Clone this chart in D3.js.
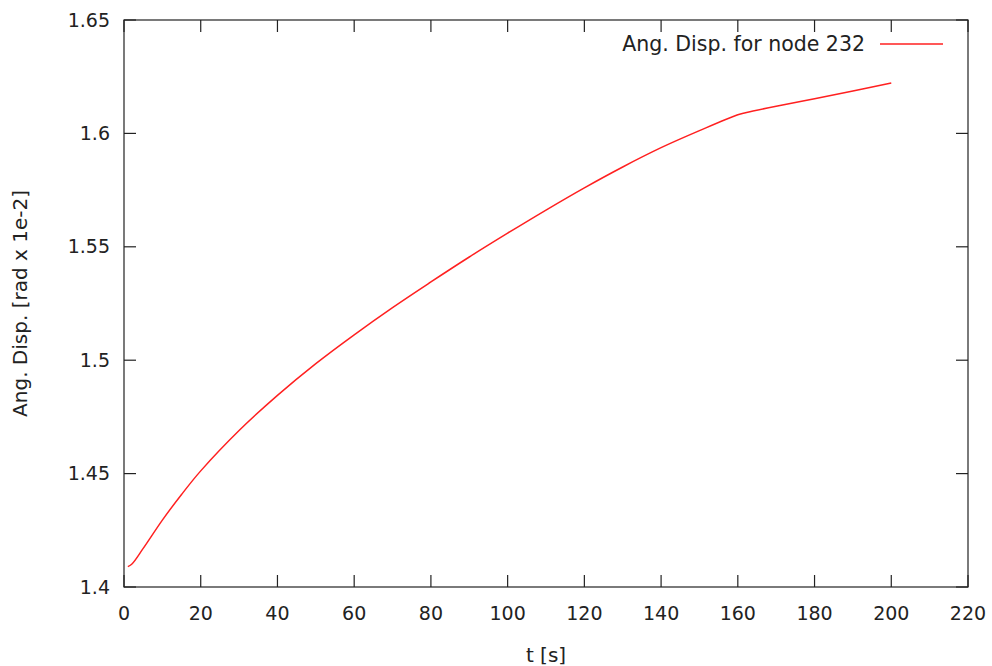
<!DOCTYPE html>
<html>
<head>
<meta charset="utf-8">
<script src="https://cdn.jsdelivr.net/npm/d3@7"></script>
<style>
body { margin: 0; background: #fff; }
.chart text { font-family: "DejaVu Sans", sans-serif; fill: #222; }
</style>
</head>
<body>
<div class="chart"></div>
<script>
// time [s]
var times = [1, 2, 5, 10, 15, 20, 30, 40, 50, 60, 70, 80, 90, 100, 110, 120, 130, 140, 150, 160, 162, 170, 180, 190, 200];
// angular displacement [rad x 1e-2]
var angDisp = [1.4090, 1.4100, 1.4170, 1.4295, 1.4408, 1.4512, 1.4690, 1.4845, 1.4985, 1.5112, 1.5232, 1.5345, 1.5455, 1.5560, 1.5662, 1.5760, 1.5852, 1.5937, 1.6012, 1.6082, 1.6091, 1.6120, 1.6153, 1.6187, 1.6222];
var xTicks = [0, 20, 40, 60, 80, 100, 120, 140, 160, 180, 200, 220];
var yTicks = [1.4, 1.45, 1.5, 1.55, 1.6, 1.65];
var seriesName = 'Ang. Disp. for node 232';

var W = 992, H = 666;
var pLeft = 124, pRight = 968, pTop = 20, pBottom = 587;

var x = d3.scaleLinear().domain([0, 220]).range([pLeft, pRight]);
var y = d3.scaleLinear().domain([1.4, 1.65]).range([pBottom, pTop]);

var svg = d3.select('div.chart')
.append('svg')
.attr('width', W)
.attr('height', H)
;

var tickLen = 12;

// ticks on all four sides, gnuplot style
var ax = svg.append('g');
ax.selectAll('.xb').data(xTicks).enter().append('line')
.attr('x1', function(d){return x(d)}).attr('x2', function(d){return x(d)})
.attr('y1', pBottom).attr('y2', pBottom - tickLen)
.attr('stroke', '#222').attr('stroke-width', 1.2);
ax.selectAll('.xt').data(xTicks).enter().append('line')
.attr('x1', function(d){return x(d)}).attr('x2', function(d){return x(d)})
.attr('y1', pTop).attr('y2', pTop + tickLen)
.attr('stroke', '#222').attr('stroke-width', 1.2);
ax.selectAll('.yl').data(yTicks).enter().append('line')
.attr('y1', function(d){return y(d)}).attr('y2', function(d){return y(d)})
.attr('x1', pLeft).attr('x2', pLeft + tickLen)
.attr('stroke', '#222').attr('stroke-width', 1.2);
ax.selectAll('.yr').data(yTicks).enter().append('line')
.attr('y1', function(d){return y(d)}).attr('y2', function(d){return y(d)})
.attr('x1', pRight).attr('x2', pRight - tickLen)
.attr('stroke', '#222').attr('stroke-width', 1.2);

ax.append('rect')
.attr('x', pLeft).attr('y', pTop)
.attr('width', pRight - pLeft).attr('height', pBottom - pTop)
.attr('fill', 'none').attr('stroke', '#222').attr('stroke-width', 1.2);

ax.selectAll('.xlab').data(xTicks).enter().append('text')
.attr('x', function(d){return x(d)})
.attr('y', pBottom + 33)
.attr('text-anchor', 'middle')
.style('font-size', '19px')
.text(function(d){return d});

ax.selectAll('.ylab').data(yTicks).enter().append('text')
.attr('x', pLeft - 14)
.attr('y', function(d){return y(d)})
.attr('dy', '0.35em')
.attr('text-anchor', 'end')
.style('font-size', '19px')
.text(function(d){return d3.format('')(d)});

svg.append('text')
.attr('x', (pLeft + pRight) / 2)
.attr('y', 662)
.attr('text-anchor', 'middle')
.style('font-size', '20px')
.text('t [s]');

svg.append('text')
.attr('transform', 'translate(27,' + ((pTop + pBottom) / 2) + ') rotate(-90)')
.attr('text-anchor', 'middle')
.style('font-size', '20px')
.text('Ang. Disp. [rad x 1e-2]');

var line = d3.line()
.x(function(d, i){return x(times[i])})
.y(function(d){return y(d)})
.curve(d3.curveCatmullRom.alpha(0.5))
;

svg.append('path')
.datum(angDisp)
.attr('class', 'line')
.attr('d', line)
.attr('fill', 'none')
.attr('stroke', '#ff2020')
.attr('stroke-width', 1.5)
;

// legend
svg.append('text')
.attr('x', 865)
.attr('y', 44)
.attr('dy', '0.35em')
.attr('text-anchor', 'end')
.style('font-size', '20.5px')
.text(seriesName);
svg.append('line')
.attr('x1', 880).attr('x2', 943)
.attr('y1', 44).attr('y2', 44)
.attr('stroke', '#ff2020').attr('stroke-width', 1.5);
</script>
</body>
</html>
